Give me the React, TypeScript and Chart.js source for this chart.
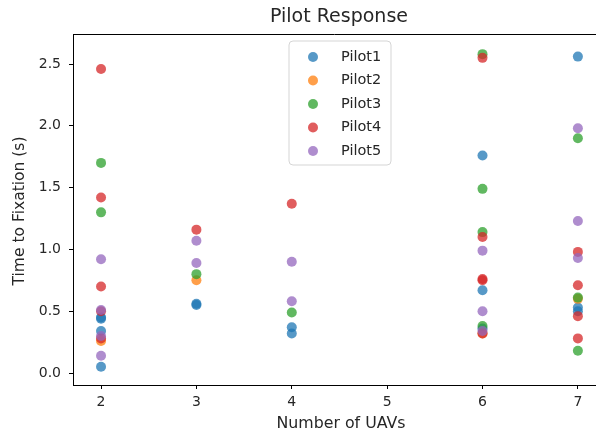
import React, { useEffect, useRef } from "react";
import { Chart, registerables } from "chart.js";

Chart.register(...registerables);

const seriesNames = ["Pilot1", "Pilot2", "Pilot3", "Pilot4", "Pilot5"];
const seriesColors = ["31,119,180", "255,127,14", "44,160,44", "214,39,40", "148,103,189"];

const pilot1X = [2, 2, 2, 2, 3, 3, 4, 4, 6, 6, 6, 7, 7, 7];
const pilot1Y = [0.45, 0.44, 0.34, 0.05, 0.55, 0.56, 0.37, 0.32, 1.76, 0.67, 0.36, 2.56, 0.53, 0.5];

const pilot2X = [2, 3, 6, 7];
const pilot2Y = [0.26, 0.75, 0.32, 0.6];

const pilot3X = [2, 2, 3, 4, 6, 6, 6, 6, 7, 7, 7];
const pilot3Y = [1.7, 1.3, 0.8, 0.49, 2.58, 1.49, 1.14, 0.38, 1.9, 0.61, 0.18];

const pilot4X = [2, 2, 2, 2, 2, 3, 4, 6, 6, 6, 6, 6, 7, 7, 7, 7];
const pilot4Y = [2.46, 1.42, 0.7, 0.5, 0.28, 1.16, 1.37, 2.55, 1.1, 0.76, 0.75, 0.32, 0.98, 0.71, 0.46, 0.28];

const pilot5X = [2, 2, 2, 2, 3, 3, 4, 4, 6, 6, 6, 7, 7, 7];
const pilot5Y = [0.92, 0.51, 0.3, 0.14, 1.07, 0.89, 0.9, 0.58, 0.99, 0.5, 0.34, 1.98, 1.23, 0.93];

const xTicks = [2, 3, 4, 5, 6, 7];
const yTicks = [0, 0.5, 1, 1.5, 2, 2.5];

const titleText = "Pilot Response";
const xLabel = "Number of UAVs";
const yLabel = "Time to Fixation (s)";

const FONT = "'DejaVu Sans', sans-serif";
const TEXT = "#262626";

export default function App() {
  const ref = useRef<HTMLCanvasElement | null>(null);

  useEffect(() => {
    document.body.style.margin = "0";
    const xs = [pilot1X, pilot2X, pilot3X, pilot4X, pilot5X];
    const ys = [pilot1Y, pilot2Y, pilot3Y, pilot4Y, pilot5Y];
    const datasets = seriesNames.map((name, i) => ({
      label: name,
      data: xs[i].map((x, j) => ({ x, y: ys[i][j] })),
      backgroundColor: `rgba(${seriesColors[i]},0.75)`,
      borderWidth: 0,
      pointRadius: 5,
      order: 5 - i,
    }));

    const decor = {
      id: "decor",
      afterDraw(chart: any) {
        const ctx = chart.ctx;
        const a = chart.chartArea;
        ctx.save();
        ctx.strokeStyle = "#000";
        ctx.lineWidth = 1;
        ctx.beginPath();
        ctx.moveTo(a.left, a.top + 0.5);
        ctx.lineTo(a.right, a.top + 0.5);
        ctx.stroke();
        ctx.fillStyle = TEXT;
        ctx.textAlign = "center";
        ctx.textBaseline = "middle";
        ctx.font = `19px ${FONT}`;
        ctx.fillText(titleText, 339, 17);
        ctx.font = `15.8px ${FONT}`;
        ctx.fillText(xLabel, 341, 424);
        ctx.save();
        ctx.translate(20, 211);
        ctx.rotate(-Math.PI / 2);
        ctx.font = `15.5px ${FONT}`;
        ctx.fillText(yLabel, 0, 0);
        ctx.restore();
        const lx = 289, ly = 41, lw = 102, lh = 124;
        const r = 4;
        ctx.beginPath();
        ctx.moveTo(lx + r, ly);
        ctx.lineTo(lx + lw - r, ly);
        ctx.quadraticCurveTo(lx + lw, ly, lx + lw, ly + r);
        ctx.lineTo(lx + lw, ly + lh - r);
        ctx.quadraticCurveTo(lx + lw, ly + lh, lx + lw - r, ly + lh);
        ctx.lineTo(lx + r, ly + lh);
        ctx.quadraticCurveTo(lx, ly + lh, lx, ly + lh - r);
        ctx.lineTo(lx, ly + r);
        ctx.quadraticCurveTo(lx, ly, lx + r, ly);
        ctx.closePath();
        ctx.fillStyle = "rgba(255,255,255,0.8)";
        ctx.fill();
        ctx.strokeStyle = "#d5d5d5";
        ctx.lineWidth = 1;
        ctx.stroke();
        ctx.textAlign = "left";
        seriesNames.forEach((name, i) => {
          const yy = 57 + i * 23.5;
          ctx.beginPath();
          ctx.arc(313, yy, 5, 0, Math.PI * 2);
          ctx.fillStyle = `rgba(${seriesColors[i]},0.75)`;
          ctx.fill();
          ctx.fillStyle = TEXT;
          ctx.font = `14.5px ${FONT}`;
          ctx.fillText(name, 341, yy);
        });
        ctx.restore();
      },
    };

    const chart = new Chart(ref.current as HTMLCanvasElement, {
      type: "scatter",
      data: { datasets: datasets as any },
      options: {
        responsive: false,
        animation: false,
        layout: { autoPadding: false, padding: { left: 0, top: 34, right: 0, bottom: 0 } },
        plugins: {
          legend: { display: false },
          title: { display: false },
          tooltip: { enabled: false },
        },
        scales: {
          x: {
            type: "linear",
            min: 1.706,
            max: 7.19,
            afterFit: (s: any) => {
              s.height = 50;
            },
            afterBuildTicks: (s: any) => {
              s.ticks = xTicks.map((v) => ({ value: v }));
            },
            grid: {
              display: true,
              drawOnChartArea: false,
              drawTicks: true,
              tickLength: 4,
              tickColor: "#000",
            },
            border: { display: true, color: "#000", width: 1 },
            ticks: {
              padding: 5,
              color: TEXT,
              font: { family: FONT, size: 14 },
              maxRotation: 0,
              callback: (v: any) => String(v),
            },
          },
          y: {
            type: "linear",
            min: -0.097,
            max: 2.743,
            afterFit: (s: any) => {
              s.width = 73;
            },
            afterBuildTicks: (s: any) => {
              s.ticks = yTicks.map((v) => ({ value: v }));
            },
            grid: {
              display: true,
              drawOnChartArea: false,
              drawTicks: true,
              tickLength: 4,
              tickColor: "#000",
            },
            border: { display: true, color: "#000", width: 1 },
            ticks: {
              padding: 8,
              color: TEXT,
              font: { family: FONT, size: 14 },
              callback: (v: any) => Number(v).toFixed(1),
            },
          },
        },
      },
      plugins: [decor],
    });
    return () => chart.destroy();
  }, []);

  return (
    <div style={{ width: 596, height: 435 }}>
      <canvas ref={ref} width={596} height={435} />
    </div>
  );
}
